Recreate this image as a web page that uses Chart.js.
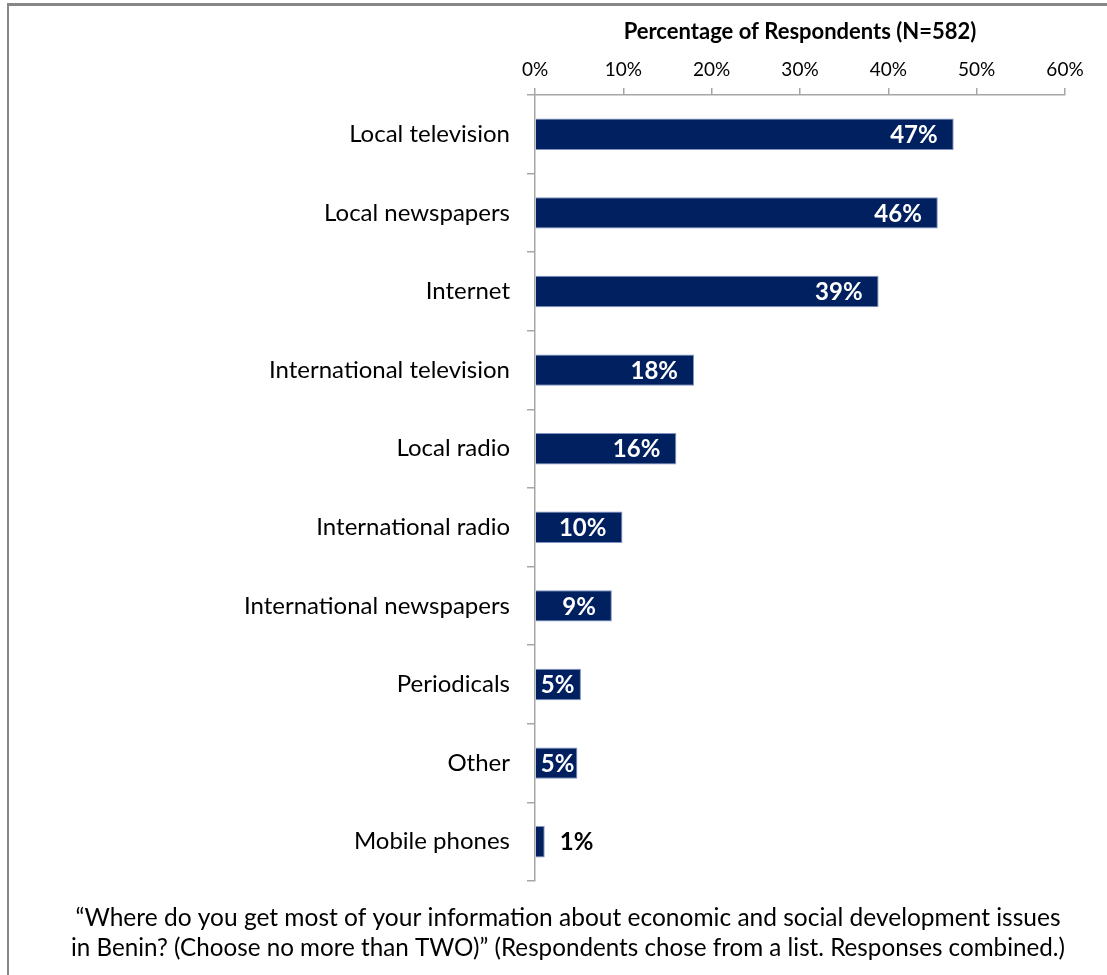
<!DOCTYPE html>
<html>
<head>
<meta charset="utf-8">
<script src="https://cdn.jsdelivr.net/npm/chart.js@4"></script>
<style>
  html, body { margin: 0; padding: 0; background: #fff; }
  #wrap { position: relative; width: 1107px; height: 975px; overflow: hidden; }
  #frame { position: absolute; left: 7px; top: 3px; width: 1200px; height: 1100px;
           border-top: 3px solid #878787; border-left: 2px solid #878787; }
  #chart { position: absolute; left: 0; top: 0; }
</style>
</head>
<body>
<div id="wrap">
  <div id="frame"></div>
  <canvas id="chart" width="1107" height="975"></canvas>
</div>
<script>
'use strict';
var categories = [
  'Local television',
  'Local newspapers',
  'Internet',
  'International television',
  'Local radio',
  'International radio',
  'International newspapers',
  'Periodicals',
  'Other',
  'Mobile phones'
];
// bar lengths, labels as printed
var values = [47.4, 45.6, 38.9, 18.0, 16.0, 9.9, 8.7, 5.2, 4.8, 1.1];
var valueLabels = ['47%', '46%', '39%', '18%', '16%', '10%', '9%', '5%', '5%', '1%'];
var tickValues = [0, 10, 20, 30, 40, 50, 60];
var axisTitle = 'Percentage of Respondents (N=582)';
var caption = [
  '\u201CWhere do you get most of your information about economic and social development issues',
  'in Benin? (Choose no more than TWO)\u201D (Respondents chose from a list. Responses combined.)'
];

var FONT = 'Lato, "Open Sans", sans-serif';
Chart.defaults.font.family = FONT;
Chart.defaults.color = '#000';

var barLabels = {
  id: 'barLabels',
  afterDatasetsDraw: function (chart) {
    var ctx = chart.ctx;
    var meta = chart.getDatasetMeta(0);
    ctx.save();
    ctx.font = 'bold 24px ' + FONT;
    ctx.textBaseline = 'middle';
    meta.data.forEach(function (bar, i) {
      var text = valueLabels[i];
      var w = ctx.measureText(text).width;
      if (values[i] < 3) {
        ctx.fillStyle = '#000';
        ctx.textAlign = 'left';
        ctx.fillText(text, bar.x + 15, bar.y + 1);
      } else {
        ctx.fillStyle = '#fff';
        ctx.textAlign = 'right';
        var right = Math.max(bar.x - 16, bar.base + w + 5);
        ctx.fillText(text, right, bar.y + 1);
      }
    });
    ctx.restore();
  }
};

var ctx = document.getElementById('chart').getContext('2d');
new Chart(ctx, {
  type: 'bar',
  data: {
    labels: categories,
    datasets: [{
      data: values,
      backgroundColor: '#002060',
      borderColor: '#7f93c4',
      borderWidth: 1,
      barPercentage: 0.4,
      categoryPercentage: 1.0
    }]
  },
  options: {
    indexAxis: 'y',
    responsive: false,
    animation: false,
    layout: { padding: { top: 8, left: 71, right: 42, bottom: 0 } },
    plugins: {
      legend: { display: false },
      tooltip: { enabled: false },
      title: {
        display: true,
        position: 'bottom',
        text: caption,
        color: '#000',
        font: { size: 24.5, weight: 'normal', lineHeight: 30 / 24.5 },
        padding: { top: 22, bottom: 12 }
      }
    },
    scales: {
      x: {
        position: 'top',
        min: 0,
        max: 60,
        afterBuildTicks: function (scale) {
          scale.ticks = tickValues.map(function (v) { return { value: v }; });
        },
        afterFit: function (scale) { scale.height = 87; },
        ticks: {
          padding: 7,
          font: { size: 19 },
          color: '#000',
          callback: function (v) { return v + '%'; }
        },
        grid: { drawOnChartArea: false, drawTicks: true, tickLength: 7, color: '#a6a6a6', lineWidth: 1.5 },
        border: { display: true, color: '#a6a6a6', width: 1.5 },
        title: {
          display: true,
          text: axisTitle,
          font: { size: 22, weight: 'bold', lineHeight: 1.2 },
          color: '#000',
          padding: { top: 11, bottom: 0 }
        }
      },
      y: {
        afterFit: function (scale) { scale.width = 464; },
        ticks: { padding: 17, font: { size: 24 }, color: '#000' },
        grid: { drawOnChartArea: false, drawTicks: true, tickLength: 8, color: '#a6a6a6', lineWidth: 1.5, offset: true },
        border: { display: true, color: '#a6a6a6', width: 1.5 }
      }
    }
  },
  plugins: [barLabels]
});
</script>
</body>
</html>
